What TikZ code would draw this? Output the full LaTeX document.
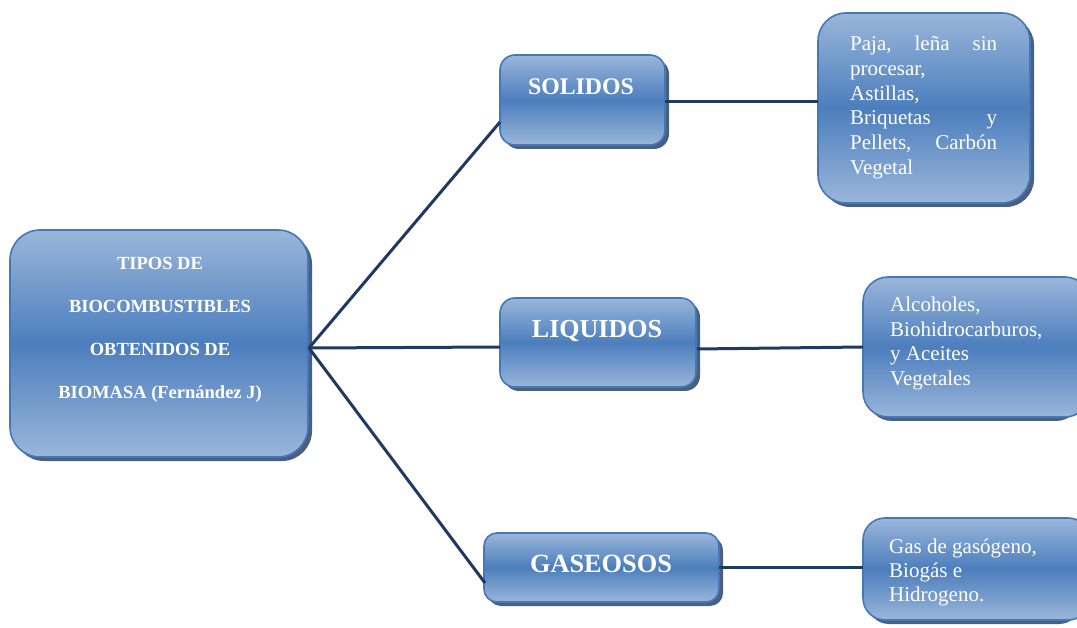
\documentclass[tikz,border=0pt]{standalone}
\usepackage{fontspec}
\setmainfont{Liberation Serif}
\definecolor{boxlight}{HTML}{9AB6DA}
\definecolor{boxmid}{HTML}{4C7EBD}
\definecolor{boxedge}{HTML}{4677B8}
\definecolor{shadowc}{HTML}{2A4468}
\definecolor{linkc}{HTML}{1F3864}
\tikzset{
  gbox/.style={draw=boxedge, line width=1.6pt, top color=boxlight, bottom color=boxlight, middle color=boxmid},
  gshadow/.style={fill=shadowc, draw=none, opacity=0.85},
  link/.style={draw=linkc, line width=3pt},
  wtxt/.style={text=white, inner sep=0pt},
}
\begin{document}
\begin{tikzpicture}[x=1pt,y=-1pt]
\useasboundingbox (0,0) rectangle (1077,628);
% shadows
\fill[gshadow, rounded corners=30pt] (14,234) rectangle (312,461);
\fill[gshadow, rounded corners=15pt] (504,59) rectangle (669,149);
\fill[gshadow, rounded corners=28pt] (822,17) rectangle (1034,207);
\fill[gshadow, rounded corners=15pt] (504,302) rectangle (700,391);
\fill[gshadow, rounded corners=25pt] (867,281) rectangle (1081,421);
\fill[gshadow, rounded corners=13pt] (488,537) rectangle (723,606);
\fill[gshadow, rounded corners=22pt] (867,522) rectangle (1081,624);
% boxes
\path[gbox, rounded corners=30pt] (10,230) rectangle (308,457);
\path[gbox, rounded corners=15pt] (500,55) rectangle (665,145);
\path[gbox, rounded corners=28pt] (818,13) rectangle (1030,203);
\path[gbox, rounded corners=15pt] (500,298) rectangle (696,387);
\path[gbox, rounded corners=25pt] (863,277) rectangle (1090,417);
\path[gbox, rounded corners=13pt] (484,533) rectangle (719,602);
\path[gbox, rounded corners=22pt] (863,518) rectangle (1090,620);
% anchor coordinates
\coordinate (main) at (309,348);
\coordinate (solIn) at (500,122);
\coordinate (solOut) at (665,102);
\coordinate (liqIn) at (500,347);
\coordinate (liqOut) at (697,349);
\coordinate (gasIn) at (485,583);
\coordinate (gasOut) at (719,567);
\coordinate (solD) at (818,102);
\coordinate (liqD) at (863,347);
\coordinate (gasD) at (863,567);
% connectors
\draw[link] (main) -- (solIn);
\draw[link] (main) -- (liqIn);
\draw[link] (main) -- (gasIn);
\draw[link] (solOut) -- (solD);
\draw[link] (liqOut) -- (liqD);
\draw[link] (gasOut) -- (gasD);
% texts
\node[wtxt, align=center, font=\fontsize{18.5}{43}\selectfont\bfseries] (mainT) at (160,330)
  {TIPOS DE\\BIOCOMBUSTIBLES\\OBTENIDOS DE\\BIOMASA (Fernández J)};
\node[wtxt, font=\fontsize{23.8}{28}\selectfont\bfseries] (solT) at (581,87) {SOLIDOS};
\node[wtxt, font=\fontsize{26}{30}\selectfont\bfseries] (liqT) at (597,331) {LIQUIDOS};
\node[wtxt, font=\fontsize{26.3}{30}\selectfont\bfseries] (gasT) at (601,564) {GASEOSOS};
\node[wtxt, anchor=north west, font=\fontsize{21}{24.7}\selectfont] (solL) at (850,36)
  {\parbox{147pt}{Paja,\hfill leña\hfill sin\\procesar,\\Astillas,\\Briquetas\hfill y\\Pellets,\hfill Carbón\\Vegetal}};
\node[wtxt, anchor=north west, align=left, font=\fontsize{21}{24.6}\selectfont] (liqL) at (890,297)
  {Alcoholes,\\Biohidrocarburos,\\y Aceites\\Vegetales};
\node[wtxt, anchor=north west, align=left, font=\fontsize{21}{24}\selectfont] (gasL) at (889,539)
  {Gas de gasógeno,\\Biogás e\\Hidrogeno.};
\end{tikzpicture}
\end{document}
